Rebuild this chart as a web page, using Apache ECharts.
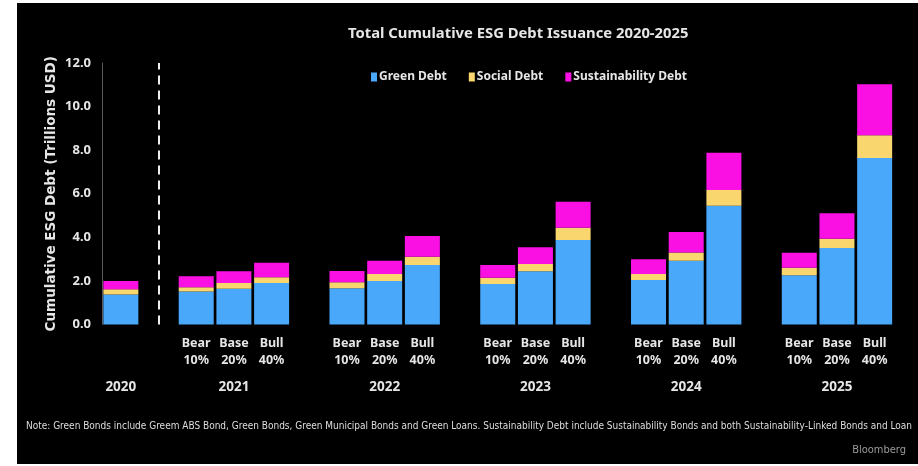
<!DOCTYPE html>
<html>
<head>
<meta charset="utf-8">
<script src="https://cdn.jsdelivr.net/npm/echarts@6/dist/echarts.min.js"></script>
<style>
  html, body { margin: 0; padding: 0; background: #fff; }
  #bg { position: absolute; left: 17px; top: 3px; right: 0; bottom: 2px; background: #000; }
  #chart { position: absolute; left: 0; top: 0; width: 918px; height: 466px; }
</style>
</head>
<body>
<div id="bg"></div>
<div id="chart"></div>
<script>
// years, 2020 is actual, the rest are Bear / Base / Bull scenarios
const years = ['2020', '2021', '2022', '2023', '2024', '2025']
const scenarios = ['Bear\n10%', 'Base\n20%', 'Bull\n40%']
const seriesNames = ['Green Debt', 'Social Debt', 'Sustainability Debt']
const colors = ['#4aa8fb', '#f9d76e', '#fb10e4']

// trillions USD, one entry per year (1 bar for 2020, 3 scenario bars after)
const greenDebt = [[1.38], [1.51, 1.64, 1.91], [1.66, 2.0, 2.73], [1.86, 2.44, 3.88], [2.04, 2.93, 5.45], [2.26, 3.51, 7.64]]
const socialDebt = [[0.24], [0.2, 0.26, 0.26], [0.28, 0.32, 0.38], [0.29, 0.34, 0.56], [0.28, 0.37, 0.72], [0.34, 0.43, 1.04]]
const sustainDebt = [[0.38], [0.5, 0.54, 0.66], [0.52, 0.61, 0.95], [0.58, 0.77, 1.19], [0.67, 0.94, 1.71], [0.69, 1.17, 2.34]]

const yTicks = { min: 0, max: 12, interval: 2 }

const noteText = 'Note: Green Bonds include Greem ABS Bond, Green Bonds, Green Municipal Bonds and Green Loans. Sustainability Debt include Sustainability Bonds and both Sustainability-Linked Bonds and Loan'

// build category slots, with an empty slot between year groups
const slotLabels = []
const yearLabels = []
const slotData = [[], [], []]
const sources = [greenDebt, socialDebt, sustainDebt]
years.forEach((y, i) => {
  const n = greenDebt[i].length
  for (let k = 0; k < n; k++) {
    slotLabels.push(n > 1 ? scenarios[k] : '')
    yearLabels.push(k === Math.floor(n / 2) ? y : '')
    sources.forEach((src, s) => slotData[s].push(src[i][k]))
  }
  if (i < years.length - 1) {
    slotLabels.push('')
    yearLabels.push('')
    slotData.forEach(arr => arr.push('-'))
  }
})
const dividerIndex = greenDebt[0].length // slot right after 2020

// the note is set in a narrow face, squeeze it to the width it takes in the source
const noteFont = '11px "DejaVu Sans Condensed", "DejaVu Sans", sans-serif'
const ctx = document.createElement('canvas').getContext('2d')
ctx.font = noteFont
const noteScale = 886 / ctx.measureText(noteText).width

const chart = echarts.init(document.getElementById('chart'))
const txt = '#e6e6e6'

const option = {
  backgroundColor: 'transparent',
  animation: false,
  title: {
    text: 'Total Cumulative ESG Debt Issuance 2020-2025',
    left: 343,
    top: 21,
    textStyle: { color: txt, fontFamily: 'Noto Sans', fontWeight: 'bold', fontSize: 14.8 },
  },
  legend: {
    data: seriesNames,
    left: 366,
    top: 66,
    icon: 'rect',
    itemWidth: 6,
    itemHeight: 9,
    itemGap: 22,
    textStyle: { color: txt, fontFamily: 'Noto Sans', fontWeight: 'bold', fontSize: 12, padding: [0, 0, 0, -3] },
  },
  grid: { left: 102, right: 24.5, top: 63, bottom: 141.5 },
  xAxis: [
    {
      type: 'category',
      data: slotLabels,
      axisLine: { show: false },
      axisTick: { show: false },
      axisLabel: {
        interval: 0, color: txt, fontFamily: 'Noto Sans', fontWeight: 'bold',
        fontSize: 12.5, lineHeight: 17, margin: 10,
      },
    },
    {
      type: 'category',
      position: 'bottom',
      data: yearLabels,
      axisLine: { show: false },
      axisTick: { show: false },
      axisLabel: {
        interval: 0, color: txt, fontFamily: 'Noto Sans', fontWeight: 'bold',
        fontSize: 13.5, margin: 56,
      },
    },
  ],
  yAxis: {
    type: 'value',
    min: yTicks.min,
    max: yTicks.max,
    interval: yTicks.interval,
    name: 'Cumulative ESG Debt (Trillions USD)',
    nameLocation: 'middle',
    nameGap: 44,
    nameMoveOverlap: false,
    nameTextStyle: { color: txt, fontFamily: 'DejaVu Sans', fontWeight: 'bold', fontSize: 13.5 },
    axisLine: { show: true, lineStyle: { color: '#5a5a5a', width: 1 } },
    axisTick: { show: false },
    splitLine: { show: false },
    axisLabel: {
      color: txt, fontFamily: 'Noto Sans', fontWeight: 'bold', fontSize: 13, margin: 11,
      formatter: v => v.toFixed(1),
    },
  },
  series: seriesNames.map((name, s) => ({
    name,
    type: 'bar',
    stack: 'esg',
    barWidth: 35,
    data: slotData[s],
    itemStyle: { color: colors[s] },
    markLine: s === 0 ? {
      silent: true,
      symbol: 'none',
      label: { show: false },
      lineStyle: { color: '#f0f0f0', type: [9, 6], width: 2 },
      data: [{ xAxis: dividerIndex }],
    } : undefined,
  })),
  graphic: [
    {
      type: 'text',
      x: 26,
      y: 421,
      scaleX: noteScale,
      style: { text: noteText, fill: '#dedede', font: noteFont },
    },
    {
      type: 'text',
      right: 12,
      top: 445,
      style: { text: 'Bloomberg', fill: '#9a9a9a', font: noteFont },
    },
  ],
}
chart.setOption(option)
</script>
</body>
</html>
